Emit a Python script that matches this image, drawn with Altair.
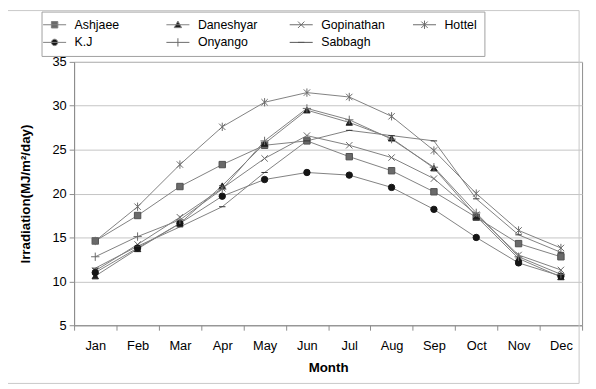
import altair as alt
import pandas as pd

months = ["Jan", "Feb", "Mar", "Apr", "May", "Jun", "Jul", "Aug", "Sep", "Oct", "Nov", "Dec"]
series_names = ["Ashjaee", "Daneshyar", "Gopinathan", "Hottel", "K.J", "Onyango", "Sabbagh"]

ashjaee    = [14.6, 17.5, 20.8, 23.3, 25.5, 26.0, 24.2, 22.6, 20.2, 17.3, 14.3, 12.8]
daneshyar  = [10.6, 13.7, 16.6, 20.9, 25.7, 29.5, 28.1, 26.3, 22.9, 17.4, 12.6, 10.5]
gopinathan = [11.2, 14.2, 17.3, 20.6, 24.0, 26.6, 25.5, 24.1, 21.7, 17.6, 13.0, 11.3]
hottel     = [14.6, 18.5, 23.3, 27.6, 30.4, 31.5, 31.0, 28.8, 24.9, 20.0, 15.8, 13.8]
kj         = [11.0, 13.8, 16.6, 19.7, 21.6, 22.4, 22.1, 20.7, 18.2, 15.0, 12.1, 10.6]
onyango    = [12.8, 15.1, 17.0, 20.5, 26.0, 29.7, 28.4, 26.2, 23.0, 17.8, 12.8, 10.8]
sabbagh    = [11.5, 14.0, 16.2, 18.5, 22.4, 26.0, 27.2, 26.6, 26.0, 19.4, 15.3, 13.3]

all_series = [ashjaee, daneshyar, gopinathan, hottel, kj, onyango, sabbagh]
rows = []
for name, vals in zip(series_names, all_series):
    for i, (m, v) in enumerate(zip(months, vals)):
        rows.append({"Month": m, "idx": i, "Model": name, "Irr": v})
df = pd.DataFrame(rows)

FONT = "Liberation Sans"
GRAY = "#808080"

# marker shapes (unit coords)
X_P = "M-1,-1L1,1M-1,1L1,-1"
AST_P = "M-1,-1L1,1M-1,1L1,-1M0,-1.3L0,1.3"
PLUS_P = "M0,-1.3L0,1.3M-1.3,0L1.3,0"
DASH_P = "M-1,0L1,0"
marker_shapes = ["square", "triangle-up", X_P, AST_P, "circle", PLUS_P, DASH_P]
marker_fills = ["#6a6a6a", "#1e1e1e", "transparent", "transparent", "#151515", "transparent", "transparent"]
marker_strokes = ["#505050", "#1e1e1e", "#6a6a6a", "#6a6a6a", "#151515", "#6a6a6a", "#333333"]

LINE = "M-3.6,0L3.6,0"
legend_shapes = [
    LINE + "M-1,-1L1,-1L1,1L-1,1Z",
    LINE + "M0,-1.15L1.15,0.9L-1.15,0.9Z",
    LINE + X_P,
    LINE + AST_P,
    LINE + "M1,0A1,1,0,1,1,-1,0A1,1,0,1,1,1,0Z",
    LINE + "M0,-1.3L0,1.3",
    LINE + "M-1,0L1,0",
]
legend_strokes = [GRAY, GRAY, "#6a6a6a", "#6a6a6a", GRAY, "#6a6a6a", "#555555"]

x_enc = alt.X(
    "Month:N",
    sort=months,
    scale=alt.Scale(type="band", paddingInner=0, paddingOuter=0),
    axis=alt.Axis(title="Month", tickBand="extent", labelAngle=0, tickSize=5,
                  labelPadding=10, titlePadding=8),
)
y_enc = alt.Y(
    "Irr:Q",
    scale=alt.Scale(domain=[5, 35], nice=False, zero=False),
    axis=alt.Axis(title="Irradiation(MJ/m²/day)", values=[5, 10, 15, 20, 25, 30, 35],
                  grid=True, tickSize=5, labelPadding=3, titlePadding=20),
)

base = alt.Chart(df)

lines = base.mark_line(color=GRAY, strokeWidth=1).encode(
    x=x_enc, y=y_enc, detail="Model:N", order=alt.Order("idx:Q")
)

points = base.mark_point(filled=True, size=42, strokeWidth=1, opacity=1).encode(
    x=x_enc,
    y=y_enc,
    shape=alt.Shape("Model:N", scale=alt.Scale(domain=series_names, range=marker_shapes), legend=None),
    fill=alt.Fill("Model:N", scale=alt.Scale(domain=series_names, range=marker_fills), legend=None),
    stroke=alt.Stroke("Model:N", scale=alt.Scale(domain=series_names, range=marker_strokes), legend=None),
)

pad_label = "\u00a0" * 11
leg = alt.Legend(
    title=None, orient="none", direction="horizontal", legendX=-33, legendY=-51,
    columns=4, gridAlign="all",
    columnPadding=25, rowPadding=5, padding=7, strokeColor="#a0a0a0",
    labelFont=FONT, labelFontSize=12.5, labelColor="#000000", symbolSize=42,
    labelOffset=14, symbolStrokeWidth=1, symbolOpacity=1,
    labelExpr="datum.label == 'Hottel' ? 'Hottel" + pad_label + "' : datum.label",
)

legend_layer = base.transform_filter("datum.Irr < 0").mark_point(
    filled=True, size=42, strokeWidth=1, opacity=1
).encode(
    x=x_enc,
    y=y_enc,
    shape=alt.Shape("Model:N", scale=alt.Scale(domain=series_names, range=legend_shapes), legend=leg),
    fill=alt.Fill("Model:N", scale=alt.Scale(domain=series_names, range=marker_fills), legend=leg),
    stroke=alt.Stroke("Model:N", scale=alt.Scale(domain=series_names, range=legend_strokes), legend=leg),
)

frame = alt.Chart(pd.DataFrame({"a": [0]})).mark_rect(
    fill="transparent", stroke="#c8c8c8", strokeWidth=1
).encode(x=alt.value(-69), x2=alt.value(512), y=alt.value(-52), y2=alt.value(326))

chart = (
    alt.layer(frame, lines, points, legend_layer)
    .resolve_scale(shape="independent", fill="independent", stroke="independent")
    .properties(
        width=515, height=267,
        padding={"left": 67, "top": 52, "right": 6, "bottom": 60},
        autosize=alt.AutoSizeParams(type="none"),
        background="white",
    )
    .configure_view(stroke="#8c8c8c", strokeWidth=1)
    .configure_axis(
        labelFont=FONT, titleFont=FONT, labelFontSize=13, titleFontSize=13.5,
        titleFontWeight="bold", labelColor="#000000", titleColor="#000000",
        domainColor="#8c8c8c", tickColor="#8c8c8c", gridColor="#c4c4c4",
    )
)

chart.save("out.html", embed_options={"renderer": "svg", "actions": False})
